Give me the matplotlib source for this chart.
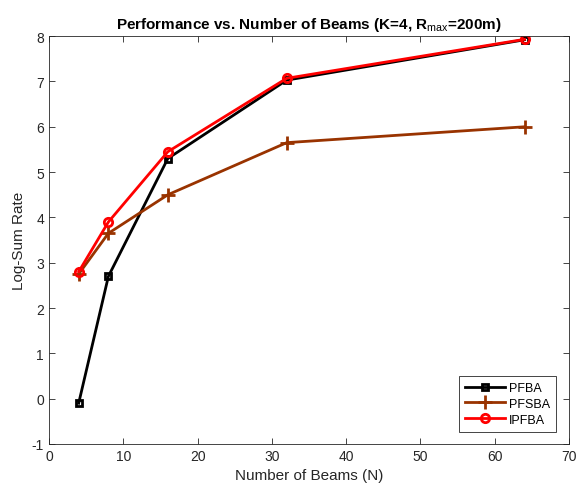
import matplotlib.pyplot as plt

plt.rcParams["font.family"] = ["Liberation Sans", "DejaVu Sans"]
plt.rcParams["axes.unicode_minus"] = False
plt.rcParams["mathtext.fontset"] = "custom"
plt.rcParams["mathtext.rm"] = "Liberation Sans"
plt.rcParams["mathtext.bf"] = "Liberation Sans:bold"

beams = [4, 8, 16, 32, 64]
pfba = [-0.1, 2.7, 5.3, 7.03, 7.92]
pfsba = [2.75, 3.65, 4.5, 5.65, 6.0]
ipfba = [2.8, 3.9, 5.45, 7.07, 7.93]

fig = plt.figure(figsize=(5.76, 4.89), dpi=100)
ax = fig.add_axes([0.085, 0.09, 0.903, 0.834])

ax.plot(beams, pfba, color="black", linewidth=2, marker="s", markersize=5,
        markerfacecolor="none", markeredgewidth=2, label="PFBA")
ax.plot(beams, pfsba, color="#993300", linewidth=2, marker="+", markersize=10,
        markeredgewidth=2, label="PFSBA")
ax.plot(beams, ipfba, color="red", linewidth=2, marker="o", markersize=6,
        markerfacecolor="none", markeredgewidth=2, label="IPFBA")

ax.set_xlim(0, 70)
ax.set_ylim(-1, 8)
ax.set_xticks(range(0, 71, 10))
ax.set_yticks(range(-1, 9))
ax.tick_params(direction="in", top=True, right=True, labelsize=10,
               colors="#262626", length=4, width=0.6)
for s in ax.spines.values():
    s.set_color("#262626")
    s.set_linewidth(0.6)

ax.set_xlabel("Number of Beams (N)", fontsize=11, color="#262626")
ax.set_ylabel("Log-Sum Rate", fontsize=11, color="#262626")
ax.set_title("Performance vs. Number of Beams (K=4, R$_{\\mathrm{max}}$=200m)",
             fontsize=11, fontweight="bold", pad=6)

leg = ax.legend(loc="lower right", bbox_to_anchor=(0.975, 0.03), fontsize=9,
                fancybox=False, framealpha=1, edgecolor="#262626",
                handlelength=3.2, borderpad=0.5, labelspacing=0.3,
                handletextpad=0.3, borderaxespad=0)
leg.get_frame().set_linewidth(0.6)

fig.savefig("out.png", dpi=100, facecolor="white")
